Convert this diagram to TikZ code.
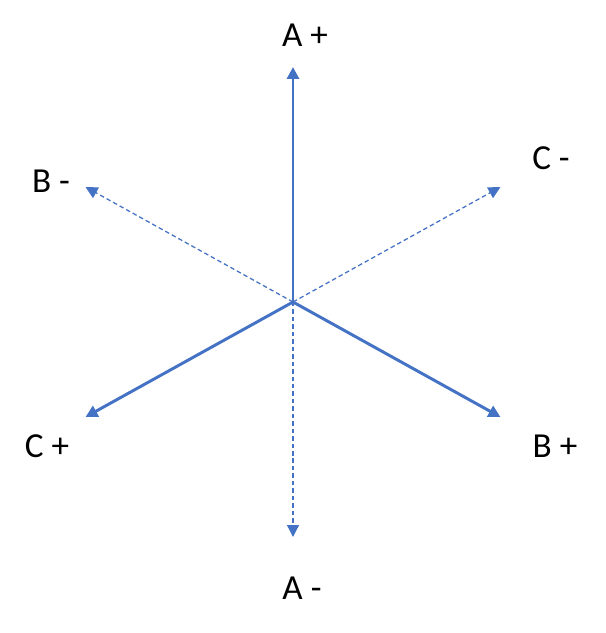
\documentclass[tikz,border=0pt]{standalone}
\usepackage{fontspec}
\setmainfont{Carlito}
\usepackage{tikz}
\usetikzlibrary{arrows.meta}
\usepackage{xcolor}
\definecolor{phaseblue}{HTML}{4472C4}

\begin{document}
\begin{tikzpicture}[every node/.style={font=\fontsize{25}{30}\selectfont, inner sep=0pt},
		phase/.style={phaseblue, line width=2.1pt, -{Triangle[length=8.5pt, width=8.5pt]}},
		phaseneg/.style={phaseblue, line width=0.9pt, dash pattern=on 3.2pt off 2.1pt, -{Triangle[length=8.5pt, width=8.5pt]}}]
				\useasboundingbox (-7.325,-8.275) rectangle (7.8,7.55);
				
				\coordinate (O) at (0,0);
				\coordinate (Ap) at (90:5.875);
				\coordinate (An) at (270:5.875);
				\coordinate (Bp) at (-29:5.93);
				\coordinate (Bn) at (151:5.93);
				\coordinate (Cp) at (209:5.93);
				\coordinate (Cn) at (29:5.93);
				
				\draw[phaseneg] (O) -- (An);
				\draw[phaseneg] (O) -- (Bn);
				\draw[phaseneg] (O) -- (Cn);
				
				\draw[phase] (O) -- (Ap);
				\draw[phase] (O) -- (Bp);
				\draw[phase] (O) -- (Cp);
				
				\node (lAp) at (0.3,6.675) {A +};
				\node (lAn) at (0.225,-7.15) {A -};
				\node (lBp) at (6.55,-3.6) {B +};
				\node (lBn) at (-6.05,3.025) {B -};
				\node (lCp) at (-6.15,-3.6) {C +};
				\node (lCn) at (6.45,3.6) {C -};
			\end{tikzpicture}
\end{document}
